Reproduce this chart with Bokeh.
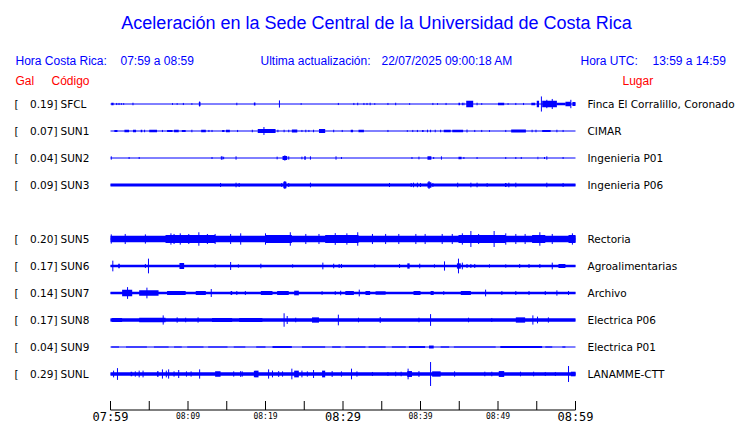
from bokeh.plotting import figure
from bokeh.models import Range1d
from bokeh.embed import file_html
from bokeh.resources import INLINE
from bokeh.core.properties import value

# ------------------------------------------------------------------ data
TITLE = "Aceleración en la Sede Central de la Universidad de Costa Rica"
HORA_CR_LABEL = "Hora Costa Rica:"
HORA_CR = "07:59 a 08:59"
ACT_LABEL = "Ultima actualización:"
ACTUALIZACION = "22/07/2025 09:00:18 AM"
UTC_LABEL = "Hora UTC:"
HORA_UTC = "13:59 a 14:59"

codes = ["SFCL", "SUN1", "SUN2", "SUN3", "", "SUN5", "SUN6", "SUN7", "SUN8", "SUN9", "SUNL"]
peaks = [0.19, 0.07, 0.04, 0.09, None, 0.20, 0.17, 0.14, 0.17, 0.04, 0.29]
places = ["Finca El Corralillo, Coronado", "CIMAR", "Ingenieria P01", "Ingenieria P06", "",
          "Rectoria", "Agroalimentarias", "Archivo", "Electrica P06", "Electrica P01", "LANAMME-CTT"]

# time axis (minutes after 07:59)
tick_minutes = [0, 5, 10, 15, 20, 25, 30, 35, 40, 45, 50, 55, 60]
small_tick_minutes = [10, 20, 40, 50]
small_tick_labels = ["08:09", "08:19", "08:39", "08:49"]
big_tick_minutes = [0, 30, 60]
big_tick_labels = ["07:59", "08:29", "08:59"]

# background noise half-width per station (Gal)
noise = [0.0, 0.0, 0.0, 0.036, None, 0.078, 0.032, 0.030, 0.040, 0.0, 0.040]

# bursts: (start min, end min, half amplitude Gal); spikes: (min, half amplitude Gal)
SFCL_bursts = [(0.1, 0.4, 0.03), (11.4, 11.6, 0.05), (18.5, 18.7, 0.035), (44.9, 45.1, 0.03),
               (45.9, 46.8, 0.08), (50.0, 50.8, 0.03), (54.3, 54.8, 0.03), (55.0, 55.3, 0.08),
               (55.7, 57.6, 0.08), (57.6, 58.7, 0.03), (58.7, 59.4, 0.055), (59.6, 60.0, 0.05)]
SFCL_spikes = [(0.8, 0.025), (1.1, 0.025), (1.4, 0.02), (1.7, 0.02), (2.9, 0.03), (8.0, 0.02),
               (8.6, 0.02), (9.4, 0.025), (10.5, 0.02), (11.5, 0.06), (16.3, 0.03), (21.8, 0.085),
               (24.6, 0.02), (29.4, 0.025), (31.4, 0.025), (31.9, 0.03), (32.7, 0.025), (33.1, 0.025),
               (33.5, 0.03), (34.1, 0.02), (35.8, 0.025), (36.8, 0.03), (38.6, 0.02), (41.6, 0.025),
               (42.2, 0.02), (43.3, 0.025), (45.4, 0.03), (45.6, 0.03), (47.3, 0.03), (47.9, 0.02),
               (51.3, 0.02), (52.3, 0.025), (53.3, 0.025), (55.6, 0.18), (56.3, 0.1), (57.0, 0.12),
               (59.4, 0.1)]

SUN1_bursts = [(0.5, 0.9, 0.025), (1.8, 2.4, 0.03), (2.9, 3.3, 0.03), (3.9, 4.1, 0.03), (5.0, 6.0, 0.03),
               (7.3, 8.0, 0.025), (8.2, 8.8, 0.03), (9.2, 9.7, 0.025), (11.7, 12.3, 0.03),
               (14.4, 14.7, 0.025), (14.9, 15.4, 0.03), (19.0, 21.3, 0.045), (23.4, 24.1, 0.035),
               (26.9, 27.7, 0.045), (31.0, 31.3, 0.03), (32.0, 32.7, 0.03), (40.2, 40.4, 0.025),
               (43.0, 43.9, 0.03), (44.1, 45.5, 0.03), (51.7, 53.6, 0.035), (55.7, 56.8, 0.025)]
SUN1_spikes = [(4.4, 0.03), (6.7, 0.025), (10.5, 0.03), (12.7, 0.025), (13.1, 0.025), (16.4, 0.025),
               (18.3, 0.03), (19.8, 0.095), (21.6, 0.03), (22.4, 0.03), (23.0, 0.03), (24.7, 0.025),
               (25.2, 0.03), (25.6, 0.025), (26.2, 0.03), (28.8, 0.03), (29.9, 0.025), (35.8, 0.025),
               (38.3, 0.02), (39.0, 0.025), (39.6, 0.025), (40.9, 0.03), (41.3, 0.03), (41.9, 0.03),
               (42.6, 0.03), (46.0, 0.035), (47.0, 0.025), (47.9, 0.025), (48.9, 0.02), (51.0, 0.025),
               (54.4, 0.03), (54.9, 0.03), (57.6, 0.03), (58.4, 0.025)]

SUN2_bursts = [(22.2, 22.8, 0.048), (25.0, 25.2, 0.04), (40.9, 41.4, 0.04), (44.9, 45.3, 0.032),
               (55.1, 55.2, 0.032)]
SUN2_spikes = [(0.1, 0.04), (2.4, 0.024), (3.7, 0.024), (13.1, 0.024), (14.3, 0.04), (14.4, 0.04),
               (14.6, 0.03), (16.2, 0.04), (21.5, 0.032), (22.5, 0.063), (23.0, 0.04), (24.7, 0.032),
               (25.8, 0.04), (29.1, 0.04), (29.8, 0.024), (38.9, 0.024), (39.8, 0.032), (41.7, 0.024),
               (42.7, 0.04), (45.6, 0.024), (47.3, 0.024), (51.0, 0.024), (52.3, 0.024), (53.0, 0.024),
               (56.0, 0.024), (56.3, 0.04), (58.4, 0.024)]

SUN3_bursts = [(22.3, 22.7, 0.08), (40.9, 41.4, 0.063), (50.9, 51.1, 0.048)]
SUN3_spikes = [(14.2, 0.048), (16.2, 0.055), (16.6, 0.048), (22.1, 0.048), (22.5, 0.095), (23.0, 0.048),
               (25.8, 0.055), (36.0, 0.048), (38.8, 0.048), (39.1, 0.055), (39.6, 0.055), (40.0, 0.048),
               (41.1, 0.095), (41.6, 0.048), (44.8, 0.055), (46.5, 0.055), (47.3, 0.055), (48.6, 0.045),
               (51.4, 0.055), (52.3, 0.055), (56.3, 0.055), (58.4, 0.048)]

SUN5_bursts = [(7.1, 13.5, 0.095), (20.0, 23.4, 0.095), (27.7, 32.0, 0.095), (44.9, 51.0, 0.095),
               (54.4, 56.1, 0.095), (59.1, 60.0, 0.095)]
SUN5_spikes = [(0.1, 0.11), (1.9, 0.12), (4.5, 0.11), (7.8, 0.135), (8.2, 0.12), (9.0, 0.135),
               (10.1, 0.12), (11.4, 0.16), (12.5, 0.12), (13.5, 0.12), (15.5, 0.12), (16.8, 0.135),
               (20.0, 0.135), (23.2, 0.16), (25.2, 0.12), (26.9, 0.12), (29.0, 0.14), (30.5, 0.135),
               (31.9, 0.16), (33.8, 0.12), (35.5, 0.12), (37.2, 0.12), (39.4, 0.12), (40.6, 0.12),
               (42.8, 0.12), (44.1, 0.12), (45.4, 0.135), (46.5, 0.19), (47.5, 0.12), (49.5, 0.19),
               (51.0, 0.135), (52.3, 0.12), (53.5, 0.12), (55.4, 0.16), (57.0, 0.12), (59.6, 0.135)]

SUN6_bursts = [(1.0, 1.2, 0.055), (8.9, 9.5, 0.07), (38.3, 38.6, 0.063), (44.7, 45.2, 0.063),
               (57.8, 58.7, 0.048)]
SUN6_spikes = [(0.3, 0.127), (4.5, 0.048), (4.9, 0.175), (13.5, 0.04), (15.5, 0.095), (16.5, 0.04),
               (19.4, 0.055), (23.5, 0.04), (27.4, 0.08), (28.8, 0.055), (29.5, 0.048), (29.8, 0.048),
               (34.1, 0.04), (37.3, 0.048), (39.9, 0.055), (41.8, 0.04), (43.1, 0.11), (44.9, 0.175),
               (45.4, 0.08), (46.0, 0.048), (46.5, 0.048), (47.0, 0.048), (48.9, 0.04), (51.0, 0.04),
               (52.8, 0.048), (54.0, 0.048), (55.4, 0.048), (57.0, 0.08)]

SUN7_bursts = [(1.5, 2.8, 0.08), (3.7, 6.2, 0.063), (7.3, 9.7, 0.048), (11.0, 12.3, 0.048),
               (15.5, 15.7, 0.048), (19.4, 20.9, 0.048), (21.5, 23.0, 0.048), (23.7, 24.3, 0.055),
               (30.3, 31.4, 0.048), (32.9, 33.5, 0.048), (34.2, 35.5, 0.04), (39.1, 40.0, 0.048),
               (41.3, 41.7, 0.048), (45.2, 46.5, 0.048)]
SUN7_spikes = [(2.2, 0.14), (4.7, 0.127), (13.0, 0.095), (16.3, 0.048), (17.4, 0.048), (27.3, 0.045),
               (29.0, 0.045), (29.7, 0.055), (32.1, 0.08), (43.0, 0.045), (48.4, 0.08), (50.5, 0.048),
               (52.3, 0.048), (54.0, 0.048), (56.1, 0.048), (57.6, 0.063), (59.1, 0.048)]

SUN8_bursts = [(0.2, 1.5, 0.048), (3.7, 7.1, 0.055), (13.1, 15.7, 0.048), (16.6, 19.6, 0.048),
               (26.0, 26.9, 0.063), (52.3, 53.5, 0.063)]
SUN8_spikes = [(6.8, 0.11), (8.6, 0.063), (9.7, 0.055), (11.3, 0.063), (22.4, 0.16), (22.8, 0.095),
               (23.9, 0.055), (29.4, 0.127), (32.0, 0.055), (34.8, 0.07), (39.8, 0.055), (41.3, 0.14),
               (46.2, 0.055), (49.2, 0.048), (54.5, 0.11), (55.1, 0.08), (56.5, 0.063)]

SUN9_bursts = [(0.1, 1.1, 0.014), (2.0, 4.7, 0.014), (5.6, 7.5, 0.014), (8.2, 9.2, 0.014),
               (9.9, 12.0, 0.014), (12.6, 15.1, 0.014), (15.9, 17.4, 0.014), (18.8, 20.0, 0.014),
               (20.9, 23.4, 0.022), (24.7, 27.7, 0.014), (28.6, 29.7, 0.014), (30.3, 32.9, 0.014),
               (33.3, 35.5, 0.014), (36.3, 38.1, 0.014), (38.5, 40.6, 0.022), (41.1, 41.7, 0.035),
               (42.6, 43.7, 0.014), (44.3, 49.7, 0.014), (50.3, 55.7, 0.022), (56.1, 57.0, 0.014),
               (58.3, 58.7, 0.014)]
SUN9_spikes = []

SUNL_bursts = [(2.6, 2.8, 0.055), (6.0, 6.2, 0.063), (13.5, 14.2, 0.063), (18.5, 19.1, 0.08),
               (23.7, 24.3, 0.08), (27.3, 27.7, 0.08), (38.3, 38.9, 0.07), (41.5, 42.6, 0.063),
               (50.1, 50.8, 0.07), (59.4, 60.0, 0.055)]
SUNL_spikes = [(0.4, 0.08), (0.9, 0.14), (3.2, 0.063), (3.7, 0.08), (4.2, 0.08), (6.7, 0.11), (7.2, 0.08),
               (7.5, 0.11), (8.2, 0.063), (8.8, 0.095), (9.8, 0.063), (10.4, 0.063), (11.5, 0.11),
               (15.9, 0.063), (16.8, 0.07), (17.0, 0.063), (20.4, 0.11), (20.9, 0.08), (21.7, 0.07),
               (22.2, 0.063), (23.4, 0.127), (24.7, 0.08), (25.4, 0.063), (26.2, 0.095), (28.6, 0.07),
               (29.8, 0.063), (31.1, 0.127), (31.8, 0.063), (33.8, 0.048), (35.8, 0.048), (36.8, 0.055),
               (37.5, 0.055), (38.4, 0.127), (39.8, 0.07), (41.3, 0.285), (44.4, 0.063), (48.3, 0.055),
               (49.2, 0.055), (52.9, 0.055), (54.6, 0.055), (56.1, 0.048), (57.4, 0.048), (59.1, 0.19)]

bursts = {"SFCL": SFCL_bursts, "SUN1": SUN1_bursts, "SUN2": SUN2_bursts, "SUN3": SUN3_bursts,
          "SUN5": SUN5_bursts, "SUN6": SUN6_bursts, "SUN7": SUN7_bursts, "SUN8": SUN8_bursts,
          "SUN9": SUN9_bursts, "SUNL": SUNL_bursts}
spikes = {"SFCL": SFCL_spikes, "SUN1": SUN1_spikes, "SUN2": SUN2_spikes, "SUN3": SUN3_spikes,
          "SUN5": SUN5_spikes, "SUN6": SUN6_spikes, "SUN7": SUN7_spikes, "SUN8": SUN8_spikes,
          "SUN9": SUN9_spikes, "SUNL": SUNL_spikes}

# ------------------------------------------------------------------ layout
W, H = 740, 423
X0_PX, X1_PX = 110, 575          # canvas px of minute 0 and 60
PX_PER_MIN = (X1_PX - X0_PX) / 60.0
PX_PER_GAL = 42.0
ROW0_PX = 103.5                  # canvas px of first trace
ROW_PX = 27
ROW = ROW_PX / PX_PER_GAL        # row spacing in Gal
AXIS_PX = 409.5                  # canvas px of the time axis line
TICK_PX = 9


def px2x(px):
    return (px - X0_PX) / PX_PER_MIN


def px2y(py):
    return (ROW0_PX - py) / PX_PER_GAL


p = figure(width=W, height=H, output_backend="svg", toolbar_location=None,
           x_range=Range1d(px2x(0), px2x(W)), y_range=Range1d(px2y(H), px2y(0)),
           x_axis_type=None, y_axis_type=None,
           min_border_left=0, min_border_right=0, min_border_top=0, min_border_bottom=0,
           outline_line_color=None, background_fill_color="white", border_fill_color="white")

BLUE = "#0000ff"
RED = "#ff0000"

# ------------------------------------------------------------------ traces
q_l, q_r, q_b, q_t = [], [], [], []
s_x, s_y0, s_y1 = [], [], []
b_x0, b_x1, b_y = [], [], []
for k, code in enumerate(codes):
    if not code:
        continue
    yc = -k * ROW
    b_x0.append(tick_minutes[0])
    b_x1.append(tick_minutes[-1])
    b_y.append(yc)
    n = noise[k]
    if n:
        q_l.append(tick_minutes[0]); q_r.append(tick_minutes[-1]); q_b.append(yc - n); q_t.append(yc + n)
    for (t0, t1, a) in bursts[code]:
        q_l.append(t0); q_r.append(t1); q_b.append(yc - a); q_t.append(yc + a)
    for (t, a) in spikes[code]:
        s_x.append(t); s_y0.append(yc - a); s_y1.append(yc + a)

p.quad(left=q_l, right=q_r, bottom=q_b, top=q_t, fill_color=BLUE, line_color=None)
p.segment(x0=b_x0, y0=b_y, x1=b_x1, y1=b_y, line_color=BLUE, line_width=1)
p.segment(x0=s_x, y0=s_y0, x1=s_x, y1=s_y1, line_color=BLUE, line_width=1)

# ------------------------------------------------------------------ texts
sans = value("Liberation Sans")
dv = value("DejaVu Sans")
mono = value("DejaVu Sans Mono")

p.text(x=[px2x(376)], y=[px2y(22)], text=[TITLE], text_font=sans, text_font_size="18px",
       text_color=BLUE, text_align="center", text_baseline="middle")

hdr_x = [px2x(15), px2x(120), px2x(260), px2x(381), px2x(580), px2x(652)]
hdr_t = [HORA_CR_LABEL, HORA_CR, ACT_LABEL, ACTUALIZACION, UTC_LABEL, HORA_UTC]
p.text(x=hdr_x, y=[px2y(60)] * len(hdr_t), text=hdr_t, text_font=sans, text_font_size="12px",
       text_color=BLUE, text_align="left", text_baseline="middle")

p.text(x=[px2x(15), px2x(51), px2x(622)], y=[px2y(80)] * 3, text=["Gal", "Código", "Lugar"],
       text_font=sans, text_font_size="12px", text_color=RED, text_align="left",
       text_baseline="middle")

row_y = [-k * ROW for k, c in enumerate(codes) if c]
row_codes = [c for c in codes if c]
row_peaks = ["%.2f]" % v for v, c in zip(peaks, codes) if c]
row_places = [pl for pl, c in zip(places, codes) if c]
nrow = len(row_y)
p.text(x=[px2x(14)] * nrow, y=row_y, text=["["] * nrow, text_font=dv, text_font_size="10.5px",
       text_color="black", text_align="left", text_baseline="middle")
p.text(x=[px2x(57)] * nrow, y=row_y, text=row_peaks, text_font=dv, text_font_size="10.5px",
       text_color="black", text_align="right", text_baseline="middle")
p.text(x=[px2x(60)] * nrow, y=row_y, text=row_codes, text_font=dv, text_font_size="10.5px",
       text_color="black", text_align="left", text_baseline="middle")
p.text(x=[px2x(587)] * nrow, y=row_y, text=row_places, text_font=dv, text_font_size="10.5px",
       text_color="black", text_align="left", text_baseline="middle")

# ------------------------------------------------------------------ time axis
ya = px2y(AXIS_PX)
yt = px2y(AXIS_PX - TICK_PX)
p.segment(x0=[tick_minutes[0]], y0=[ya], x1=[tick_minutes[-1]], y1=[ya], line_color="black", line_width=1)
p.segment(x0=tick_minutes, y0=[ya] * len(tick_minutes), x1=tick_minutes, y1=[yt] * len(tick_minutes),
          line_color="black", line_width=1)
p.text(x=small_tick_minutes, y=[px2y(415.5)] * len(small_tick_minutes), text=small_tick_labels,
       text_font=mono, text_font_size="8px", text_color="black", text_align="center",
       text_baseline="middle")
p.text(x=big_tick_minutes, y=[px2y(416)] * len(big_tick_minutes), text=big_tick_labels,
       text_font=mono, text_font_size="12px", text_color="black", text_align="center",
       text_baseline="middle")

open("out.html", "w").write(file_html(p, INLINE))
